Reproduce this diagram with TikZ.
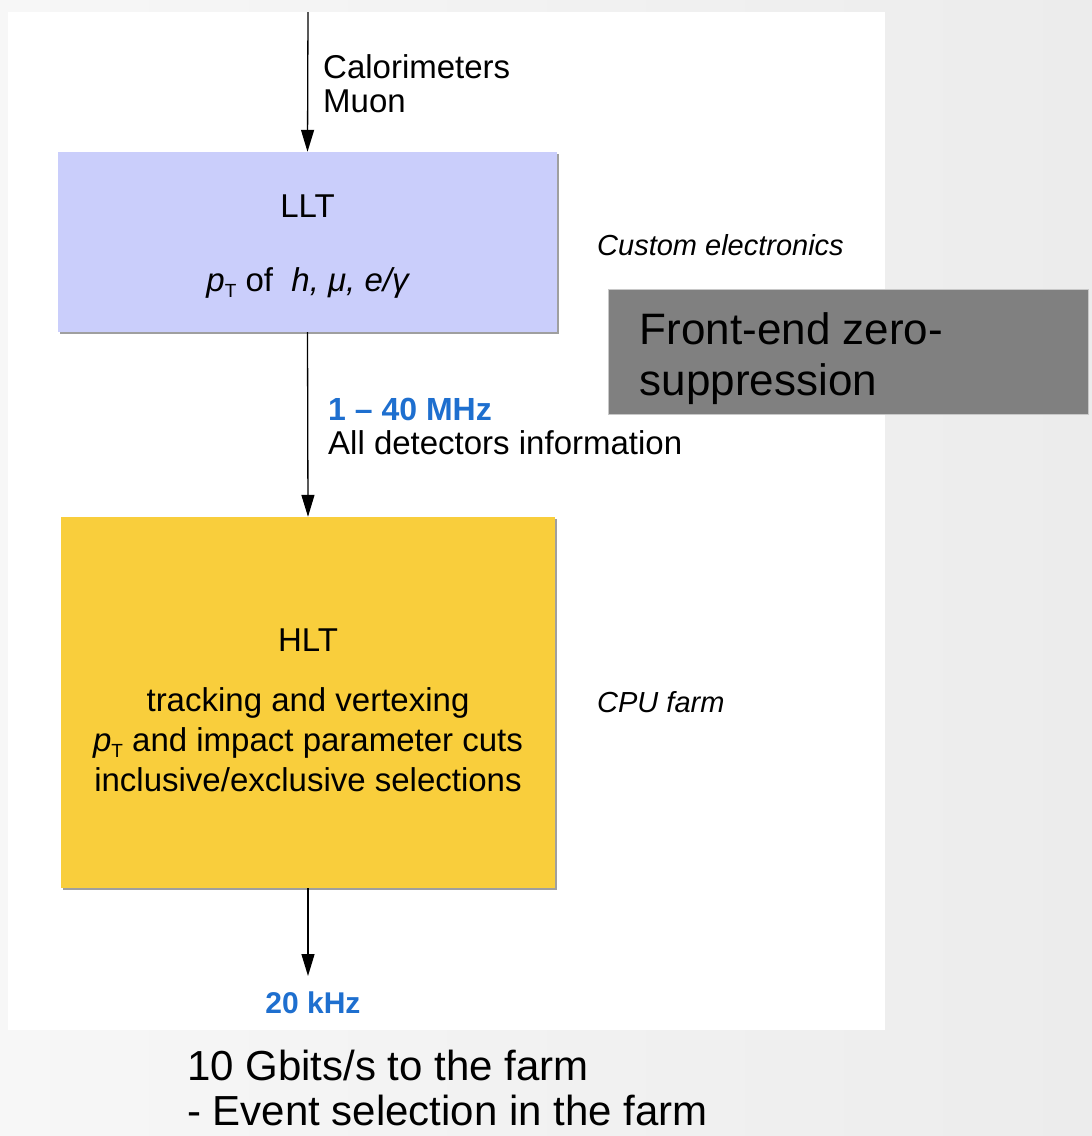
\documentclass[tikz,border=0pt]{standalone}
\usepackage{fontspec}
\setmainfont{Liberation Sans}
\usetikzlibrary{arrows.meta,shadows}
\definecolor{lltblue}{RGB}{202,206,251}
\definecolor{hltyellow}{RGB}{249,206,60}
\definecolor{boxgray}{RGB}{128,128,128}
\definecolor{ratetext}{RGB}{30,111,207}
\definecolor{bgleft}{RGB}{247,247,247}
\definecolor{bgright}{RGB}{236,236,236}
\newcommand{\ptsym}{{\itshape p}\raisebox{-0.35ex}{\fontsize{19}{19}\selectfont T}}
\begin{document}
\begin{tikzpicture}[x=1pt,y=-1pt,
  arr/.style={line width=1.3pt,-{Triangle[length=22pt,width=13pt]}},
  trigbox/.style={draw=none,inner sep=0pt,align=center,
     drop shadow={shadow xshift=2pt,shadow yshift=-2pt,fill=gray!75,opacity=1},
     font=\fontsize{33}{40}\selectfont},
  lbl/.style={inner sep=0pt,anchor=west,align=left,font=\fontsize{33}{34}\selectfont},
  side/.style={inner sep=0pt,anchor=west,font=\fontsize{29}{32}\selectfont\itshape},
  rate/.style={inner sep=0pt,font=\fontsize{30}{34}\selectfont\bfseries,text=ratetext}]
\useasboundingbox (0,0) rectangle (1092,1136);
\shade[left color=bgleft,right color=bgright] (0,0) rectangle (1092,1136);
\fill[white] (8,12) rectangle (885,1030);

\node[trigbox,fill=lltblue,minimum width=499pt,minimum height=180pt] (llt) at (307.5,242)
  {\rule{0pt}{31pt}LLT\\[34pt] \ptsym{} of\ \ {\itshape h, μ, e/γ}};
\node[trigbox,fill=hltyellow,minimum width=494pt,minimum height=371pt] (hlt) at (308,702.5)
  {\rule{0pt}{39pt}HLT\\[20pt] tracking and vertexing\\ \ptsym{} and impact parameter cuts\\ inclusive/exclusive selections};

\node[draw={rgb,255:red,200;green,200;blue,200},line width=0.8pt,fill=boxgray,minimum width=480pt,minimum height=125pt,
  inner sep=0pt] (fe) at (848,351.5) {};
\node[inner sep=0pt,anchor=west,align=left,font=\fontsize{44}{51}\selectfont] (fetext)
  at ([xshift=32pt,yshift=-7pt]fe.west) {Front-end zero-\\suppression};

\coordinate (top) at (308,12);
\coordinate (bot) at (308,976);
\draw[arr] (top) -- (llt.north);
\draw[arr] (llt.south) -- (hlt.north);
\draw[arr] (hlt.south) -- (bot);

\node[lbl] (calo) at (323,84) {Calorimeters\\Muon};
\node[lbl] (alldet) at (328,426) {\textcolor{ratetext}{\fontsize{32}{34}\selectfont\bfseries 1 – 40 MHz}\\All detectors information};
\node[side] (custom) at (597,245) {Custom electronics};
\node[side] (cpu) at (597,702) {CPU farm};
\node[rate] (khz) at (313,1003) {20 kHz};

\node[inner sep=0pt,anchor=west,align=left,font=\fontsize{42}{45}\selectfont] (farm) at (187,1088)
  {10 Gbits/s to the farm\\- Event selection in the farm};
\end{tikzpicture}
\end{document}
